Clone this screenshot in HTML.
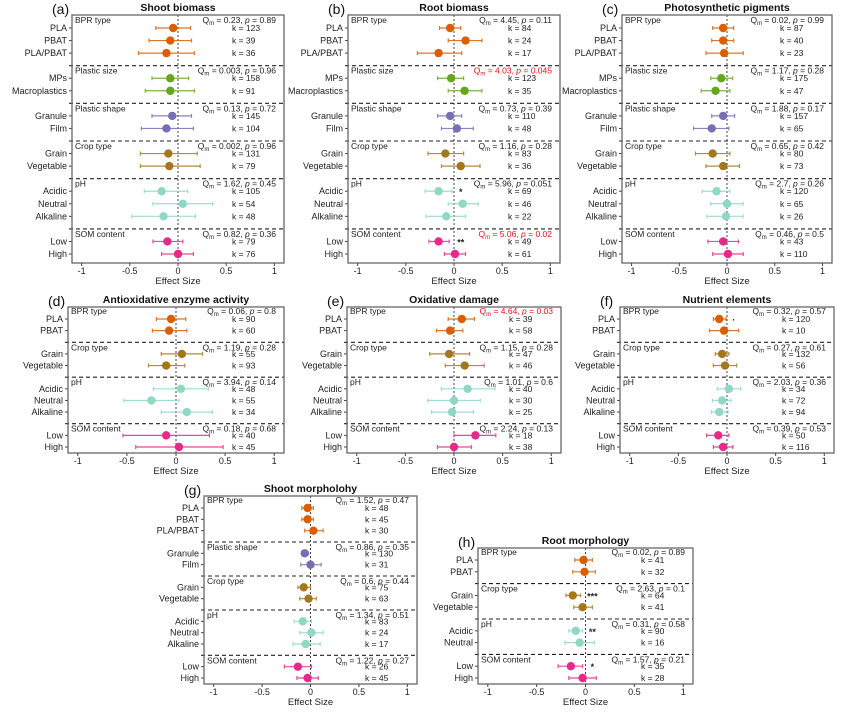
<!DOCTYPE html>
<html><head><meta charset="utf-8"><style>
html,body{margin:0;padding:0;background:#fff}
svg{display:block;font-family:"Liberation Sans",Arial,sans-serif}
</style></head><body>
<svg id="fig" width="842" height="714" viewBox="0 0 842 714" xmlns="http://www.w3.org/2000/svg"></svg>
<script>
// ---------- data ----------
const A_groups=["BPR type","Plastic size","Plastic shape","Crop type","pH","SOM content"];
const A_sizes=[3,2,2,2,3,2];
const A_labels=["PLA","PBAT","PLA/PBAT","MPs","Macroplastics","Granule","Film","Grain","Vegetable","Acidic","Neutral","Alkaline","Low","High"];
const A_est=[-0.05,-0.08,-0.12,-0.08,-0.08,-0.06,-0.12,-0.10,-0.09,-0.17,0.05,-0.15,-0.11,0.0];
const A_lo=[-0.23,-0.30,-0.41,-0.27,-0.34,-0.27,-0.38,-0.39,-0.39,-0.35,-0.26,-0.48,-0.26,-0.17];
const A_hi=[0.13,0.14,0.17,0.11,0.17,0.14,0.16,0.20,0.23,0.10,0.36,0.18,0.05,0.16];
const A_k=[123,39,36,158,91,145,104,131,79,105,54,48,79,76];
const A_Q=["0.23","0.003","0.13","0.002","1.62","0.82"];
const A_p=["0.89","0.96","0.72","0.96","0.45","0.36"];
const A_red=[false,false,false,false,false,false];
const A_stars=["","","","","","","","","","","","","",""];

const B_groups=A_groups, B_sizes=A_sizes, B_labels=A_labels;
const B_est=[-0.04,0.12,-0.16,-0.03,0.11,-0.04,0.03,-0.09,0.07,-0.16,0.09,-0.08,-0.16,0.01];
const B_lo=[-0.15,-0.06,-0.38,-0.17,-0.06,-0.17,-0.13,-0.27,-0.13,-0.30,-0.06,-0.29,-0.26,-0.10];
const B_hi=[0.07,0.29,0.08,0.10,0.29,0.08,0.20,0.10,0.27,-0.02,0.25,0.12,-0.05,0.12];
const B_k=[84,24,17,123,35,110,48,83,36,69,46,22,49,61];
const B_Q=["4.45","4.03","0.73","1.16","5.96","5.06"];
const B_p=["0.11","0.045","0.39","0.28","0.051","0.02"];
const B_red=[false,true,false,false,false,true];
const B_stars=["","","","","","","","","","*","","","**",""];

const C_groups=A_groups, C_sizes=A_sizes, C_labels=A_labels;
const C_est=[-0.04,-0.04,-0.03,-0.06,-0.12,-0.04,-0.16,-0.15,-0.04,-0.11,0.0,-0.01,-0.04,0.01];
const C_lo=[-0.15,-0.16,-0.22,-0.17,-0.27,-0.16,-0.35,-0.33,-0.22,-0.26,-0.17,-0.21,-0.20,-0.15];
const C_hi=[0.07,0.07,0.17,0.06,0.03,0.08,0.02,0.03,0.13,0.03,0.17,0.17,0.12,0.17];
const C_k=[87,40,23,175,47,157,65,80,73,120,65,26,43,110];
const C_Q=["0.02","1.17","1.88","0.65","2.7","0.46"];
const C_p=["0.99","0.28","0.17","0.42","0.26","0.5"];
const C_red=[false,false,false,false,false,false];
const C_stars=["","","","","","","","","","","","","",""];

const D_groups=["BPR type","Crop type","pH","SOM content"];
const D_sizes=[2,2,3,2];
const D_labels=["PLA","PBAT","Grain","Vegetable","Acidic","Neutral","Alkaline","Low","High"];
const D_est=[-0.05,-0.07,0.06,-0.10,0.05,-0.25,0.11,-0.10,0.03];
const D_lo=[-0.20,-0.24,-0.15,-0.28,-0.23,-0.53,-0.15,-0.54,-0.41];
const D_hi=[0.10,0.11,0.27,0.09,0.33,0.03,0.37,0.34,0.48];
const D_k=[90,60,55,93,48,55,34,40,45];
const D_Q=["0.06","1.19","3.94","0.18"];
const D_p=["0.8","0.28","0.14","0.68"];
const D_red=[false,false,false,false];
const D_stars=["","","","","","","","",""];

const E_groups=D_groups, E_sizes=D_sizes, E_labels=D_labels;
const E_est=[0.08,-0.04,-0.05,0.11,0.14,0.0,-0.02,0.22,0.0];
const E_lo=[-0.06,-0.18,-0.25,-0.09,-0.13,-0.27,-0.23,0.0,-0.17];
const E_hi=[0.21,0.09,0.16,0.31,0.42,0.27,0.20,0.43,0.18];
const E_k=[39,58,47,46,40,30,25,18,38];
const E_Q=["4.64","1.15","1.01","2.24"];
const E_p=["0.03","0.28","0.6","0.13"];
const E_red=[true,false,false,false];
const E_stars=["","","","","","","","",""];

const F_groups=D_groups, F_sizes=D_sizes, F_labels=D_labels;
const F_est=[-0.08,-0.03,-0.05,-0.02,0.02,-0.05,-0.08,-0.09,-0.04];
const F_lo=[-0.14,-0.18,-0.12,-0.14,-0.10,-0.15,-0.16,-0.21,-0.14];
const F_hi=[-0.01,0.12,0.02,0.10,0.14,0.04,0.01,0.02,0.06];
const F_k=[120,10,132,56,34,72,94,50,116];
const F_Q=["0.32","0.27","2.03","0.39"];
const F_p=["0.57","0.61","0.36","0.53"];
const F_red=[false,false,false,false];
const F_stars=["·","","","","","","","",""];

const G_groups=["BPR type","Plastic shape","Crop type","pH","SOM content"];
const G_sizes=[3,2,2,3,2];
const G_labels=["PLA","PBAT","PLA/PBAT","Granule","Film","Grain","Vegetable","Acidic","Neutral","Alkaline","Low","High"];
const G_est=[-0.03,-0.03,0.03,-0.06,0.0,-0.07,-0.02,-0.08,0.01,-0.05,-0.13,-0.03];
const G_lo=[-0.09,-0.09,-0.06,-0.08,-0.10,-0.13,-0.11,-0.17,-0.11,-0.18,-0.27,-0.14];
const G_hi=[0.03,0.03,0.13,-0.02,0.11,0.0,0.06,0.01,0.13,0.10,0.01,0.08];
const G_k=[48,45,30,130,31,75,63,83,24,17,26,45];
const G_Q=["1.52","0.86","0.6","1.34","1.22"];
const G_p=["0.47","0.35","0.44","0.51","0.27"];
const G_red=[false,false,false,false,false];
const G_stars=["","","","","","","","","","","",""];

const H_groups=["BPR type","Crop type","pH","SOM content"];
const H_sizes=[2,2,2,2];
const H_labels=["PLA","PBAT","Grain","Vegetable","Acidic","Neutral","Low","High"];
const H_est=[-0.02,-0.01,-0.13,-0.03,-0.10,-0.06,-0.15,-0.03];
const H_lo=[-0.11,-0.13,-0.20,-0.12,-0.17,-0.21,-0.28,-0.17];
const H_hi=[0.07,0.10,-0.05,0.07,-0.03,0.09,-0.03,0.11];
const H_k=[41,32,64,41,90,16,35,28];
const H_Q=["0.02","2.63","0.31","1.57"];
const H_p=["0.89","0.1","0.58","0.21"];
const H_red=[false,false,false,false];
const H_stars=["","","***","","**","","*",""];

const ticks=[-1,-0.5,0,0.5,1];
const tickLabels=["-1","-0.5","0","0.5","1"];

// ---------- layout ----------
const NS="http://www.w3.org/2000/svg";
const svg=document.getElementById('fig');
const colors={"BPR type":"#d95f02","Plastic size":"#66a61e","Plastic shape":"#7570b3","Crop type":"#a6761d","pH":"#8ed8c4","SOM content":"#e7298a"};
function mk(tag,attrs,parent){const e=document.createElementNS(NS,tag);for(const k in attrs)e.setAttribute(k,attrs[k]);(parent||svg).appendChild(e);return e;}

const panels=[
 {id:"a",title:"Shoot biomass",L:72,T:15,R:284,B:263,pt:13,pb:9,d:[A_groups,A_sizes,A_labels,A_est,A_lo,A_hi,A_k,A_Q,A_p,A_red,A_stars]},
 {id:"b",title:"Root biomass",L:348,T:15,R:560,B:263,pt:13,pb:9,d:[B_groups,B_sizes,B_labels,B_est,B_lo,B_hi,B_k,B_Q,B_p,B_red,B_stars]},
 {id:"c",title:"Photosynthetic pigments",L:622,T:15,R:832,B:263,pt:13,pb:9,d:[C_groups,C_sizes,C_labels,C_est,C_lo,C_hi,C_k,C_Q,C_p,C_red,C_stars]},
 {id:"d",title:"Antioxidative enzyme activity",L:68,T:307,R:284,B:453,pt:12,pb:6,d:[D_groups,D_sizes,D_labels,D_est,D_lo,D_hi,D_k,D_Q,D_p,D_red,D_stars]},
 {id:"e",title:"Oxidative damage",L:347,T:307,R:561,B:453,pt:12,pb:6,d:[E_groups,E_sizes,E_labels,E_est,E_lo,E_hi,E_k,E_Q,E_p,E_red,E_stars]},
 {id:"f",title:"Nutrient elements",L:620,T:307,R:834,B:453,pt:12,pb:6,d:[F_groups,F_sizes,F_labels,F_est,F_lo,F_hi,F_k,F_Q,F_p,F_red,F_stars]},
 {id:"g",title:"Shoot morpholohy",L:204,T:496,R:417,B:684,pt:12,pb:6,d:[G_groups,G_sizes,G_labels,G_est,G_lo,G_hi,G_k,G_Q,G_p,G_red,G_stars]},
 {id:"h",title:"Root morphology",L:478,T:548,R:693,B:684,pt:12,pb:6,d:[H_groups,H_sizes,H_labels,H_est,H_lo,H_hi,H_k,H_Q,H_p,H_red,H_stars]}
];

panels.forEach(P=>{
 const [groups,sizes,labels,est,lo,hi,kv,Q,pv,red,stars]=P.d;
 const g=mk('g',{});
 
 
 const x=v=>P.L+(v+1.1)/2.2*(P.R-P.L);
 const nslots=labels.length+groups.length-1;
 const step=(P.B-P.T-P.pt-P.pb)/(nslots-1);
 const ys=[];const sepY=[];const headY=[];
 let s=0,r=0;
 groups.forEach((gn,gi)=>{
  headY.push(gi===0?P.T+P.pt-8:P.T+P.pt+(s-1)*step+5);
  for(let j=0;j<sizes[gi];j++){ys.push(P.T+P.pt+s*step);s++;}
  if(gi<groups.length-1){sepY.push(P.T+P.pt+s*step);s++;}
 });
 // title and label
 const t=mk('text',{x:(P.L+P.R)/2,y:P.T-4,'text-anchor':'middle','font-size':10.5,'font-weight':'bold',fill:'#111'},g);
 t.textContent=P.title;
 
 
 const pl=mk('text',{x:P.L-20,y:P.T-1,'font-size':14,fill:'#111'},g);
 pl.textContent='('+P.id+')';
 
 
 // zero line
 const zl=mk('line',{x1:x(0),x2:x(0),y1:P.T,y2:P.B,stroke:'#444','stroke-width':1,'stroke-dasharray':'2,2'},g);
 
 
 // separators
 sepY.forEach(sy=>{
  const l=mk('line',{x1:P.L-3,x2:P.R,y1:sy,y2:sy,stroke:'#222','stroke-width':1.1,'stroke-dasharray':'4,3'},g);
  
  
 });
 // group headers + Q stats
 groups.forEach((gn,gi)=>{
  const hy=headY[gi]+3;
  const h=mk('text',{x:P.L+3,y:hy,'font-size':8.5,fill:'#222'},g);
  h.textContent=gn;
  
  
  const q=mk('text',{x:P.R-8,y:hy,'text-anchor':'end','font-size':8.5,fill:red[gi]?'#e8141c':'#222'},g);
  
  
  q.appendChild(document.createTextNode('Q'));
  const sub=mk('tspan',{'font-size':6,dy:2},q);sub.textContent='m';
  const t2=mk('tspan',{dy:-2},q);t2.textContent=' = '+Q[gi]+', ';
  const it=mk('tspan',{'font-style':'italic'},q);it.textContent='p';
  const t3=mk('tspan',{},q);t3.textContent=' = '+pv[gi];
 });
 // rows
 let idx=0;
 groups.forEach((gn,gi)=>{
  const col=colors[gn];
  for(let j=0;j<sizes[gi];j++,idx++){
   const y=ys[idx];
   const lab=mk('text',{x:P.L-5,y:y+3,'text-anchor':'end','font-size':9,fill:'#222'},g);
   lab.textContent=labels[idx];
   
   
   mk('line',{x1:P.L-3,x2:P.L,y1:y,y2:y,stroke:'#444','stroke-width':1},g);
   const eb=mk('path',{d:`M${x(lo[idx])},${y}H${x(hi[idx])}M${x(lo[idx])},${y-2}V${y+2}M${x(hi[idx])},${y-2}V${y+2}`,stroke:col,'stroke-width':1.2,fill:'none','stroke-opacity':0.85},g);
   
   
   const c=mk('circle',{cx:x(est[idx]),cy:y,r:4.2,fill:col},g);
   
   
   const k=mk('text',{x:P.R-52,y:y+3,'font-size':8.5,fill:'#222'},g);
   k.textContent='k = '+kv[idx];
   
   
   if(stars[idx]){
    const st=mk('text',{x:x(0.07),y:y+4,'text-anchor':'middle','font-size':9,'font-weight':'bold',fill:'#222'},g);
    st.textContent=stars[idx];
    
    
   }
  }
 });
 // box
 const bx=mk('rect',{x:P.L,y:P.T,width:P.R-P.L,height:P.B-P.T,fill:'none',stroke:'#666','stroke-width':1.3},g);
 
 
 // x ticks
 ticks.forEach((tv,i)=>{
  mk('line',{x1:x(tv),x2:x(tv),y1:P.B,y2:P.B+3,stroke:'#444','stroke-width':1},g);
  const tl=mk('text',{x:x(tv),y:P.B+11,'text-anchor':'middle','font-size':9,fill:'#222'},g);
  tl.textContent=tickLabels[i];
  
  
 });
 const xt=mk('text',{x:x(0),y:P.B+21,'text-anchor':'middle','font-size':9.5,fill:'#222'},g);
 xt.textContent='Effect Size';
 
 
});
</script>
</body></html>
